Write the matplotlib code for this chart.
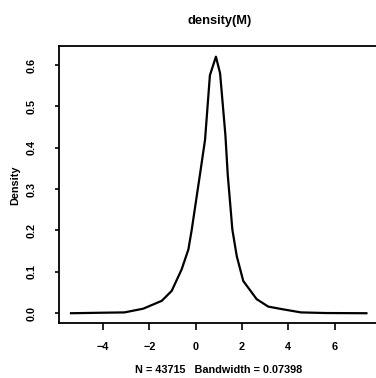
import matplotlib
matplotlib.use('Agg')
import matplotlib.pyplot as plt

# density estimate
xs = [-5.39, -4.3, -3.08, -2.27, -1.47, -1.04, -0.61, -0.32, -0.18, 0.18, 0.40, 0.61, 0.87,
      1.05, 1.28, 1.38, 1.58, 1.77, 2.05, 2.63, 3.13, 3.71, 4.54, 5.6, 7.37]
dens = [0.0, 0.001, 0.002, 0.011, 0.030, 0.054, 0.106, 0.154, 0.200, 0.335, 0.419, 0.575, 0.620,
        0.580, 0.430, 0.335, 0.202, 0.138, 0.078, 0.034, 0.016, 0.010, 0.002, 0.0005, 0.0]

xticks = [-4, -2, 0, 2, 4, 6]
yticks = [0.0, 0.1, 0.2, 0.3, 0.4, 0.5, 0.6]
ytick_labels = ['0.0', '0.1', '0.2', '0.3', '0.4', '0.5', '0.6']

title = 'density(M)'
xlab = 'N = 43715   Bandwidth = 0.07398'
ylab = 'Density'

plt.rcParams['font.family'] = ['Liberation Sans', 'DejaVu Sans']
plt.rcParams['font.weight'] = 'bold'

fig = plt.figure(figsize=(3.76, 3.78), dpi=100)
ax = fig.add_axes([0.1574, 0.1442, 0.8485, 0.733])

ax.plot(xs, dens, color='black', lw=1.6, solid_joinstyle='round')

ax.set_xlim(-5.9, 7.88)
ax.set_ylim(-0.0248, 0.6448)

ax.set_xticks(xticks)
ax.set_xticklabels([('\u2212%d' % -t) if t < 0 else '%d' % t for t in xticks], fontsize=7.8, fontweight='bold')
ax.set_yticks(yticks)
ax.set_yticklabels(ytick_labels, fontsize=7.8, fontweight='bold')

ax.tick_params(axis='x', length=5, width=1.2, pad=8)
ax.tick_params(axis='y', length=3, width=1.2, pad=13, labelrotation=90)
for lab in ax.get_yticklabels():
    lab.set_verticalalignment('center')
    lab.set_horizontalalignment('right')

for s in ax.spines.values():
    s.set_linewidth(1.3)

fig.text(0.584, 0.944, title, ha='center', va='center', fontsize=9.3, fontweight='bold')
fig.text(0.581, 0.021, xlab, ha='center', va='center', fontsize=7.8, fontweight='bold')
fig.text(0.04, 0.51, ylab, ha='center', va='center', rotation=90, fontsize=7.8, fontweight='bold')

fig.savefig('out.png', dpi=100)
